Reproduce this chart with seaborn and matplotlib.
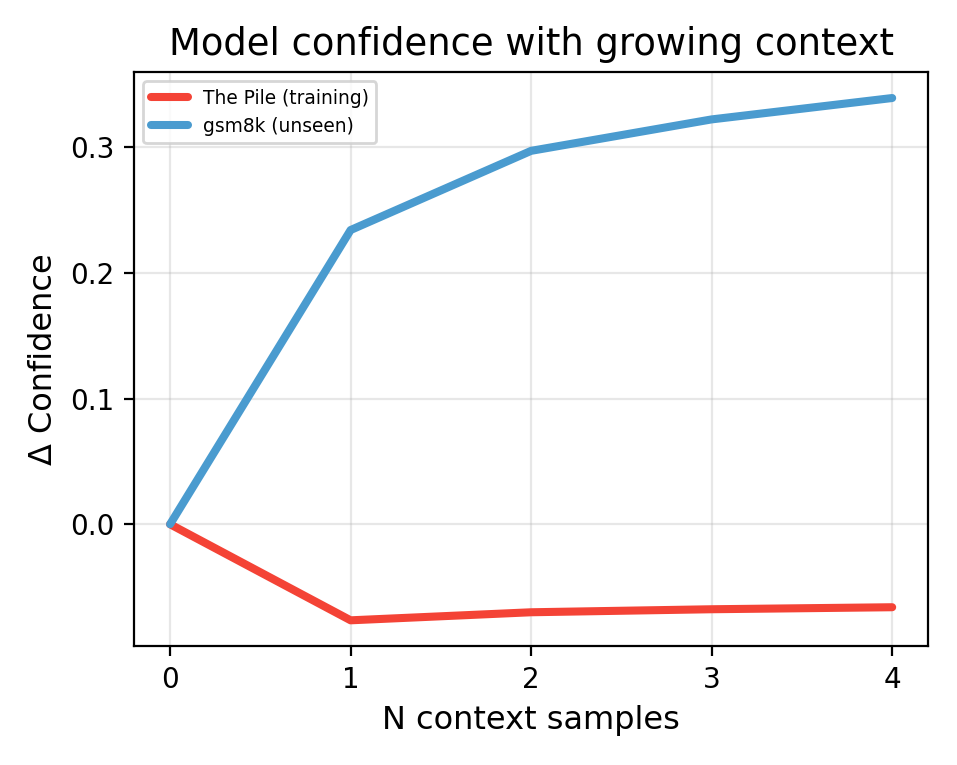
import matplotlib
matplotlib.use("Agg")
import matplotlib.pyplot as plt
import seaborn as sns
import pandas as pd

n_context = [0, 1, 2, 3, 4]
pile_values = [0.0, -0.0764, -0.0700, -0.0676, -0.0660]
gsm8k_values = [0.0, 0.234, 0.297, 0.322, 0.339]
series_names = ["The Pile (training)", "gsm8k (unseen)"]
colors = ["#F44336", "#4A9BCF"]

df = pd.DataFrame({
    "N": n_context * 2,
    "value": pile_values + gsm8k_values,
    "series": [series_names[0]] * 5 + [series_names[1]] * 5,
})

sns.set_style("ticks", rc={
    "axes.edgecolor": "black", "text.color": "black",
    "axes.labelcolor": "black", "xtick.color": "black", "ytick.color": "black",
})
plt.rcParams['font.family'] = ['DejaVu Sans']
fig, ax = plt.subplots(figsize=(4.785, 3.825), dpi=200)
sns.lineplot(data=df, x="N", y="value", hue="series", palette=colors,
             linewidth=2.9, ax=ax)
ax.grid(True, color="#b0b0b0", alpha=0.3, linewidth=0.8)
ax.set_xticks(n_context)
ax.set_xlabel("N context samples", fontsize=11.5)
ax.set_ylabel("Δ Confidence", fontsize=11.5)
ax.set_title("Model confidence with growing context", fontsize=13.3)
ax.tick_params(labelsize=10, width=0.8, length=3.5)
for s in ax.spines.values():
    s.set_visible(True)
    s.set_linewidth(0.8)
leg = ax.legend(loc="upper left", fontsize=6.7)
for line in leg.get_lines():
    line.set_linewidth(2.9)
fig.subplots_adjust(left=0.14, right=0.97, top=0.906, bottom=0.155)
fig.savefig("out.png", dpi=200)
